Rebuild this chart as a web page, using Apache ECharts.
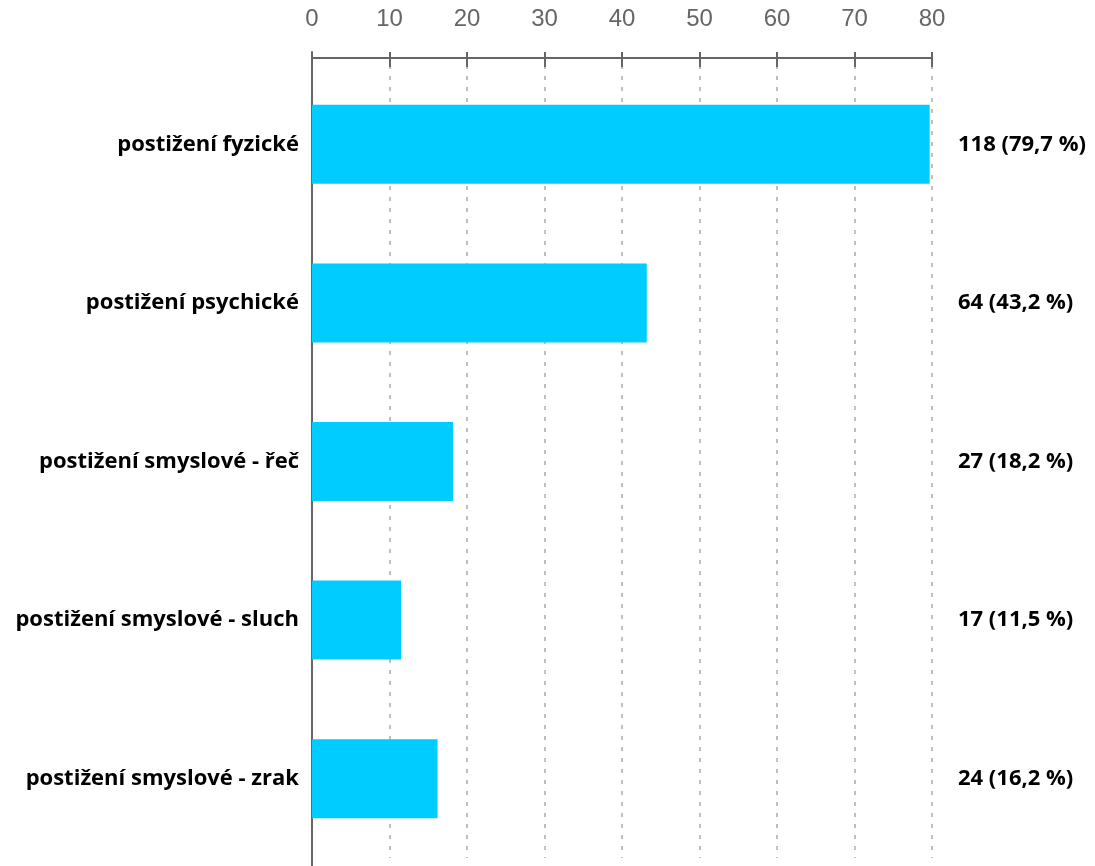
<!DOCTYPE html>
<html>
<head>
<meta charset="utf-8">
<script src="https://cdn.jsdelivr.net/npm/echarts@6/dist/echarts.min.js"></script>
<style>
  html, body { margin: 0; padding: 0; background: #fff; }
  #chart { width: 1095px; height: 866px; }
</style>
</head>
<body>
<div id="chart"></div>
<script>
// data
const categories = [
  'postižení fyzické',
  'postižení psychické',
  'postižení smyslové - řeč',
  'postižení smyslové - sluch',
  'postižení smyslové - zrak'
];
const counts = [118, 64, 27, 17, 24];
const percents = [79.7, 43.2, 18.2, 11.5, 16.2];
const axisTicks = [0, 10, 20, 30, 40, 50, 60, 70, 80];

// "118 (79,7 %)"
const rightLabels = counts.map((c, i) =>
  c + ' (' + percents[i].toFixed(1).replace('.', ',') + ' %)');

const chart = echarts.init(document.getElementById('chart'));

const option = {
  animation: false,
  grid: [
    // bars
    { left: 312, right: 163, top: 65, bottom: 8 },
    // frame: vertical axis line + ticks crossing the top axis
    { left: 312, right: 163, top: 52, bottom: 0 }
  ],
  xAxis: [
    {
      type: 'value',
      gridIndex: 0,
      position: 'top',
      offset: 7,
      min: axisTicks[0],
      max: axisTicks[axisTicks.length - 1],
      interval: 10,
      axisLine: { show: true, lineStyle: { color: '#666', width: 2 } },
      axisTick: { show: false },
      axisLabel: {
        color: '#666',
        fontFamily: 'Liberation Sans, Arial, sans-serif',
        fontSize: 24,
        margin: 27
      },
      splitLine: {
        show: true,
        lineStyle: { color: '#c0c0c0', type: [4, 7], width: 2 }
      }
    },
    {
      type: 'value',
      gridIndex: 1,
      position: 'top',
      min: axisTicks[0],
      max: axisTicks[axisTicks.length - 1],
      interval: 10,
      axisLine: { show: false },
      axisTick: { show: true, inside: true, length: 15, lineStyle: { color: '#666', width: 2 } },
      axisLabel: { show: false },
      splitLine: { show: false }
    }
  ],
  yAxis: [
    {
      type: 'category',
      gridIndex: 0,
      inverse: true,
      data: categories,
      axisLine: { show: false },
      axisTick: { show: false },
      axisLabel: {
        color: '#000',
        fontFamily: 'Open Sans, sans-serif',
        fontWeight: 'bold',
        fontSize: 22,
        margin: 13
      }
    },
    {
      type: 'category',
      gridIndex: 0,
      position: 'right',
      inverse: true,
      data: rightLabels,
      axisLine: { show: false },
      axisTick: { show: false },
      axisLabel: {
        color: '#000',
        fontFamily: 'Open Sans, sans-serif',
        fontWeight: 'bold',
        fontSize: 22,
        margin: 26
      }
    },
    {
      type: 'category',
      gridIndex: 1,
      data: categories,
      axisLine: { show: true, lineStyle: { color: '#666', width: 2 } },
      axisTick: { show: false },
      axisLabel: { show: false }
    }
  ],
  series: [
    {
      type: 'bar',
      xAxisIndex: 0,
      yAxisIndex: 0,
      data: percents,
      barWidth: 79,
      itemStyle: { color: '#00ccff' }
    }
  ]
};

chart.setOption(option);
</script>
</body>
</html>
